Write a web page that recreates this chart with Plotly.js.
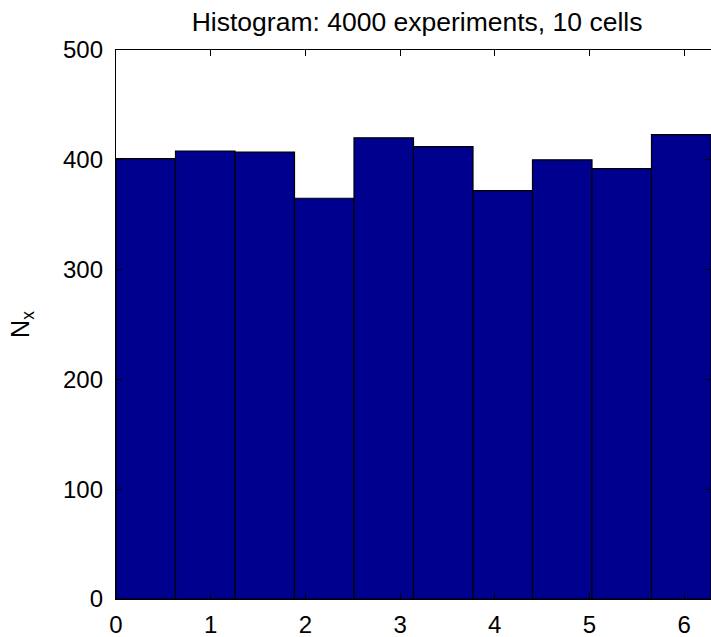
<!DOCTYPE html>
<html>
<head>
<meta charset="utf-8">
<script src="https://cdn.plot.ly/plotly-3.0.1.min.js"></script>
<style>
  html, body { margin: 0; padding: 0; background: #fff; }
  #chart { width: 711px; height: 637px; }
</style>
</head>
<body>
<div id="chart"></div>
<script>
// Counts per cell for 4000 experiments over [0, 2π), 10 equal cells
const counts = [401, 408, 407, 365, 420, 412, 372, 400, 392, 423];
const nCells = 10;
const xMax = 2 * Math.PI;
const cellWidth = xMax / nCells;
const centers = counts.map((_, i) => (i + 0.5) * cellWidth);

const xTicks = [0, 1, 2, 3, 4, 5, 6];
const yTicks = [0, 100, 200, 300, 400, 500];

const FONT = 'Liberation Sans, Arial, Helvetica, sans-serif';

const trace = {
  type: 'bar',
  x: centers,
  y: counts,
  width: cellWidth,
  marker: { color: '#00008F', line: { color: '#000000', width: 1.2 } },
  hoverinfo: 'x+y'
};

const axisCommon = {
  showgrid: false,
  zeroline: false,
  showline: true,
  linecolor: '#000',
  linewidth: 1.2,
  mirror: 'ticks',
  ticks: 'inside',
  ticklen: 6,
  tickcolor: '#000',
  tickfont: { family: FONT, size: 24, color: '#000' }
};

const layout = {
  width: 711,
  height: 637,
  margin: { l: 116, r: 0, t: 50, b: 38 },
  paper_bgcolor: '#fff',
  plot_bgcolor: '#fff',
  showlegend: false,
  title: {
    text: 'Histogram: 4000 experiments, 10 cells',
    font: { family: FONT, size: 26.5, color: '#000' },
    xref: 'paper',
    x: 0.506,
    xanchor: 'center',
    y: 1 - 22 / 637,
    yanchor: 'middle'
  },
  xaxis: Object.assign({}, axisCommon, {
    range: [0, xMax],
    tickvals: xTicks,
    ticktext: xTicks.map(String),
    ticklabelstandoff: 4
  }),
  yaxis: Object.assign({}, axisCommon, {
    range: [0, 500],
    tickvals: yTicks,
    ticktext: yTicks.map(String),
    ticklabelstandoff: 7,
    title: {
      text: 'N<sub>x</sub>',
      font: { family: FONT, size: 25, color: '#000' },
      standoff: 26
    }
  }),
  bargap: 0
};

Plotly.newPlot('chart', [trace], layout, { displayModeBar: false, staticPlot: true });
</script>
</body>
</html>
